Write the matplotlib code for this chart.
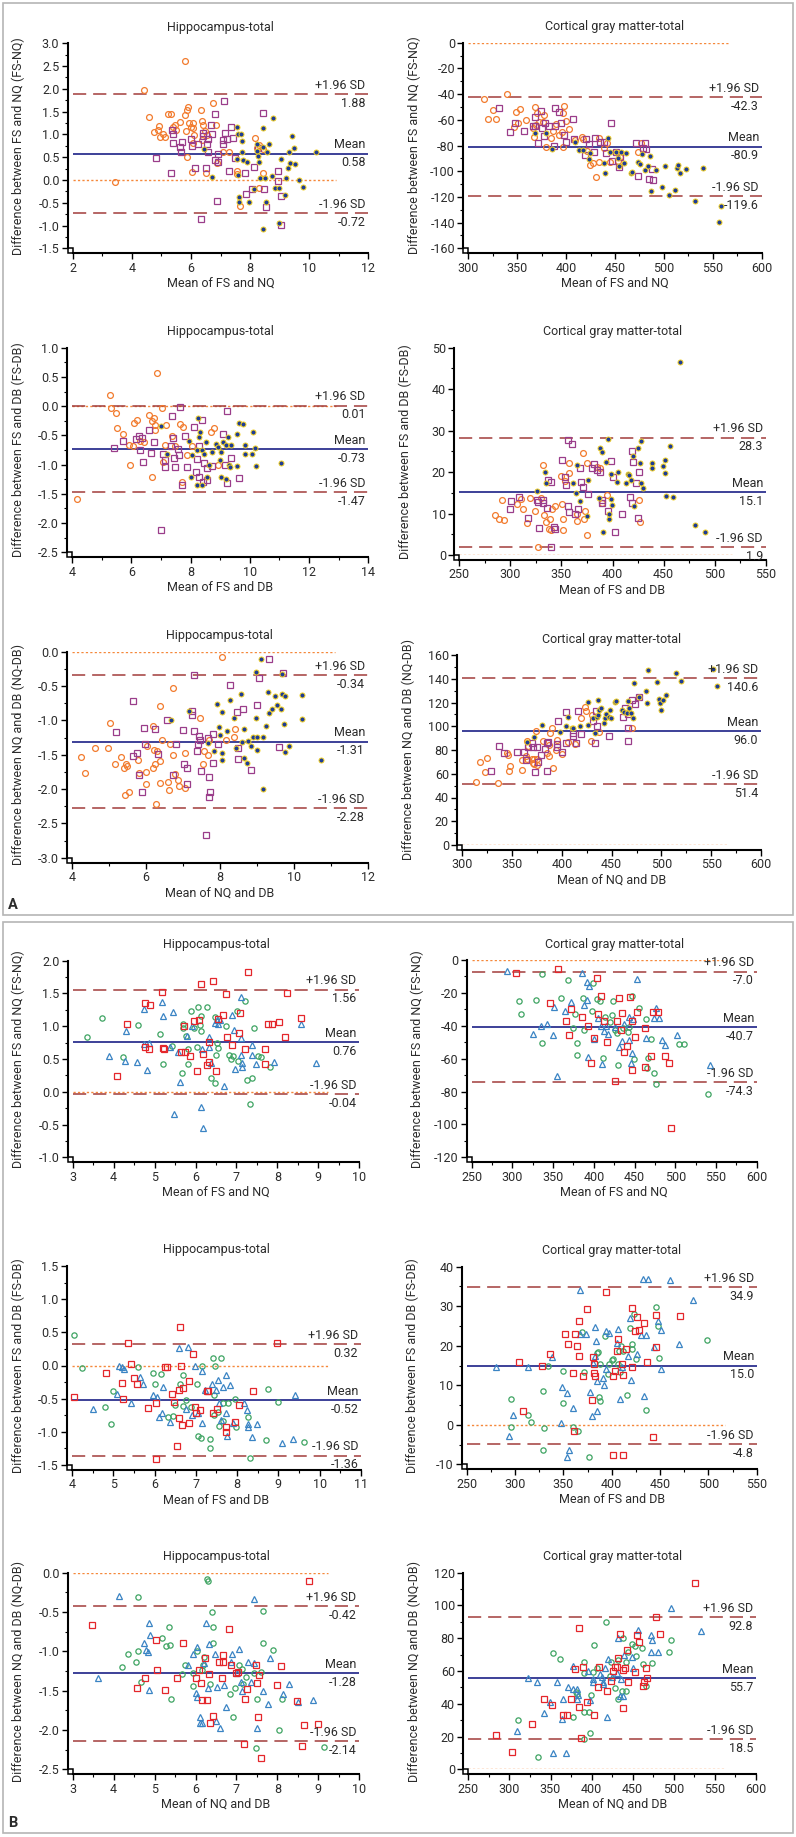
import numpy as np
import matplotlib
matplotlib.use('Agg')
import matplotlib.pyplot as plt
from matplotlib.patches import Rectangle
from matplotlib.transforms import blended_transform_factory
from matplotlib.ticker import MultipleLocator, FormatStrFormatter

plt.rcParams['font.family'] = ['Roboto', 'DejaVu Sans']
plt.rcParams['lines.scale_dashes'] = False

# ---------------- data (mean, difference) ----------------
# Panel A: orange circles, purple squares, navy dots
A1L_CIRC = [(3.43,-0.04),(4.41,1.98),(4.58,1.39),(4.75,1.05),(4.9,1.1),(4.92,1.18),(4.95,0.95),(5.07,1.0),(5.11,0.95),
            (5.21,1.44),(5.33,1.44),(5.4,1.17),(5.46,1.21),(5.51,1.1),(5.63,1.27),(5.8,2.62),(5.81,1.43),(5.86,1.54),
            (5.91,1.61),(5.83,1.08),(5.86,0.51),(5.93,1.26),(6.0,1.17),(6.06,1.26),(6.08,1.15),(6.02,0.17),(6.08,0.82),
            (6.11,0.99),(6.33,1.54),(6.38,1.3),(6.42,1.21),(6.38,0.88),(6.46,1.08),(6.51,0.15),(6.53,0.99),(6.73,1.7),
            (6.84,1.21),(6.89,0.37),(7.07,0.62),(7.29,0.61),(7.55,0.2),(7.57,0.13),(7.66,-0.58),(8.17,0.92),(8.22,0.7),
            (8.31,0.76),(8.31,-0.17),(8.45,0.16),(8.45,0.69)]
A1L_SQ = [(4.81,0.48),(5.34,0.15),(5.37,1.1),(5.38,1.0),(5.39,0.81),(5.63,0.72),(5.68,0.61),(5.7,0.84),(6.0,0.89),
          (6.05,0.75),(6.14,0.26),(6.23,0.8),(6.34,-0.86),(6.41,1.03),(6.42,0.97),(6.52,0.26),(6.55,0.79),(6.58,0.91),
          (6.59,0.61),(6.67,1.21),(6.71,1.0),(6.82,1.45),(6.82,0.44),(6.87,-0.46),(6.91,0.58),(6.93,0.4),(7.08,0.88),
          (7.1,0.78),(7.12,1.73),(7.14,1.03),(7.21,0.9),(7.28,0.2),(7.36,1.17),(7.43,0.92),(7.49,0.49),(7.82,0.15),
          (7.85,-0.31),(8.08,-0.19),(8.13,0.28),(8.28,0.71),(8.43,1.48),(8.48,-0.19),(8.54,-0.6),(8.93,0.2),
          (8.93,-0.02),(9.03,-0.35),(9.04,-0.99)]
A1L_DOT = [(6.45,0.67),(6.72,0.07),(7.57,1.16),(7.6,1.02),(7.57,0.47),(7.58,0.11),(7.64,-0.37),(7.64,-0.49),(7.71,1.0),
           (7.72,0.86),(7.73,0.62),(7.77,0.44),(7.9,0.4),(7.95,-0.48),(8.13,-0.2),(8.22,0.8),(8.25,0.64),(8.28,0.53),
           (8.31,0.39),(8.35,0.04),(8.43,1.13),(8.45,0.73),(8.51,0.05),(8.53,-0.48),(8.45,-1.08),(8.56,0.62),(8.65,0.78),
           (8.73,0.08),(8.78,1.37),(8.85,-0.18),(8.98,-0.18),(8.98,-0.94),(9.06,0.45),(9.17,-0.33),(9.21,0.04),
           (9.27,0.27),(9.32,0.62),(9.35,0.38),(9.42,0.97),(9.5,0.7),(9.51,0.35),(9.66,-0.01),(9.78,-0.15),(10.23,0.61)]

A1R_CIRC = [(316,-44),(320.5,-59.6),(325,-52.4),(328.6,-59.4),(339.5,-40.2),(347,-65.9),(349,-53.9),(351,-62.2),
            (353,-51.3),(359,-60.4),(366.5,-66),(368,-49.8),(367.5,-73.7),(369,-64),(370.6,-55),(372.6,-61.5),
            (376.7,-62),(377.7,-56.3),(379,-81),(384.6,-74.4),(387,-68.7),(389.7,-63.5),(392.7,-71.8),(396,-69.2),
            (397,-81),(397,-54.5),(398,-49.3),(399.5,-60.7),(403,-67.2),(409,-75.7),(416,-73.7),(417,-75.2),
            (421.7,-84.3),(424.4,-95.2),(427.8,-93.4),(430.6,-104.8),(433.6,-92.6),(434,-74.2),(439,-82),(441.5,-77.8),
            (445,-92.6),(453.4,-91.8),(455,-88.7),(473.9,-84.8),(476.3,-78.3)]
A1R_SQ = [(331.7,-51.1),(342.6,-69.8),(348,-62.8),(357,-68.5),(365.8,-64.8),(368,-64.8),(368.7,-58.1),(371,-78.3),
          (374.7,-53.2),(375.7,-66.6),(377.4,-72.6),(378.4,-62.8),(382.5,-64.6),(387.6,-80.1),(389,-51.1),(389,-64.8),
          (392.7,-53.7),(395,-62.8),(398,-71.6),(399.9,-77),(407,-59.6),(407.7,-75.2),(419,-87.4),(420.3,-75.2),
          (423.3,-79.1),(428.5,-85.3),(430,-74.2),(434.3,-77),(438.7,-77),(441,-86.1),(446.3,-62.8),(447.2,-92.1),
          (451.3,-85.3),(454,-96.5),(454.7,-88.7),(471.4,-77.8),(473.7,-103.5),(478.9,-82.2),(480.9,-77.8),
          (481.6,-83),(484.3,-105.7),(487.4,-98),(488.4,-107)]
A1R_DOT = [(368,-70.5),(379,-70.5),(385.2,-82.7),(409,-77),(413,-83.5),(417.6,-83.5),(423.4,-90.8),(424.4,-86.1),
           (438.7,-93.9),(439.8,-101.7),(442.8,-74.4),(444.5,-84.8),(450.6,-84.8),(453,-90),(454,-96),(456.4,-84.8),
           (458.8,-93.4),(461.5,-85.6),(466,-101.1),(467.7,-100.4),(473.5,-93.1),(475.2,-94.4),(477.6,-86.9),
           (481,-99.1),(484,-96),(485.7,-87.9),(486.8,-115.1),(492.2,-99.1),(498,-112),(501.4,-96),(504.8,-118.5),
           (511,-114.6),(513.4,-97.3),(514.4,-95.2),(516.8,-101.7),(522.6,-98.5),(532,-122.9),(539.7,-97.3),
           (556.7,-139.3),(558,-127.1)]

A2L_CIRC = [(4.18,-1.59),(5.28,0.19),(5.32,-0.04),(5.47,-0.12),(5.51,-0.38),(5.73,-0.47),(5.96,-1.01),(5.93,-0.66),
            (6.05,-0.69),(6.1,-0.28),(6.18,-0.23),(6.29,-0.59),(6.44,-0.61),(6.6,-0.15),(6.69,-0.25),(6.71,-1.21),
            (6.77,-0.2),(6.8,-0.32),(6.81,-0.41),(6.88,0.56),(7.05,-0.04),(7.06,-0.95),(7.16,-0.33),(7.15,-0.66),
            (7.36,-0.51),(7.48,-0.69),(7.65,-0.31),(7.7,-1.29),(7.76,-0.35),(7.87,-0.84),(8.06,-0.68),(8.68,-0.45),
            (8.79,-0.38),(8.94,-1.0)]
A2L_SQ = [(5.42,-0.71),(5.73,-0.59),(6.16,-0.56),(6.25,-0.51),(6.29,-0.75),(6.35,-0.55),(6.41,-0.96),(6.6,-0.4),
          (6.67,-0.8),(6.77,-0.62),(7.0,-2.12),(7.08,-0.81),(7.13,-0.92),(7.15,-1.04),(7.33,-0.69),(7.39,-0.17),
          (7.42,-0.55),(7.44,-0.88),(7.48,-1.04),(7.59,-0.74),(7.62,-0.84),(7.66,-0.01),(7.7,-1.35),(7.81,-0.51),
          (7.89,-1.04),(8.12,-0.35),(8.18,-1.12),(8.21,-0.9),(8.27,-0.68),(8.3,-1.22),(8.38,-0.23),(8.43,-1.29),
          (8.47,-0.98),(8.54,-1.06),(8.54,-1.26),(8.74,-1.02),(9.11,-0.48),(9.16,-1.01),(9.22,-0.09),(9.22,-1.31),
          (9.37,-0.88),(9.65,-1.23)]
A2L_DOT = [(7.0,-0.34),(7.19,-0.81),(7.96,-0.59),(8.04,-0.84),(8.0,-1.21),(8.21,-1.35),(8.23,-0.75),(8.24,-0.2),
           (8.29,-0.52),(8.32,-0.44),(8.38,-1.35),(8.38,-0.75),(8.46,-0.82),(8.52,-0.61),(8.54,-1.22),(8.63,-1.01),
           (8.74,-0.79),(8.86,-0.64),(8.94,-0.7),(8.99,-0.92),(9.02,-0.78),(9.03,-1.22),(9.11,-0.61),(9.19,-0.66),
           (9.2,-1.24),(9.28,-0.52),(9.3,-1.01),(9.33,-1.04),(9.36,-0.67),(9.56,-1.02),(9.56,-0.48),(9.65,-0.28),
           (9.78,-0.31),(9.84,-0.67),(9.84,-0.82),(10.06,-0.82),(10.12,-0.44),(10.18,-0.71),(10.2,-1.02),(11.05,-0.98)]

A2R_CIRC = [(284.9,9.6),(288.9,8.6),(292.1,13.3),(294.1,8.4),(306.2,12.3),(310.4,13.4),(312.7,11),(316,7.8),
            (319.2,13.7),(324.1,10.7),(327.4,2.0),(329.7,13.8),(331.6,21.7),(333,9.6),(334.6,7.9),(337.8,6.2),
            (338.8,8.6),(339.5,6),(341.1,11),(343.7,11.8),(349.2,19.1),(350.6,12.3),(351.2,8.7),(351.9,6),
            (353.5,17.8),(357.4,19.7),(357.7,22.1),(364.9,10.0),(365.5,8.3),(370.8,24.7),(372.1,8.8),(373.1,10.7),
            (374.7,4.8),(375.4,22.1),(385.2,21.3),(387.8,20.9),(389.7,12.5),(394.3,14.5),(426.3,13.3),(427,8.0)]
A2R_SQ = [(299.6,11),(300.3,13),(308.8,14.1),(317,9),(326.4,13.3),(327.4,12.7),(328.4,6.4),(331.6,13.3),(332.3,12.5),
          (335.5,11.3),(336.5,18.1),(339.5,17.7),(339.5,2.0),(343.0,6.7),(343.7,6.2),(350.9,22.9),(353.2,18.7),
          (354.5,16.9),(356.1,27.7),(356.8,11.9),(357.4,10.3),(360.0,26.8),(363.3,10.0),(366.6,11.0),(368.2,20.9),
          (368.8,17.5),(370.8,16.5),(376.3,14.6),(380.3,20.9),(381.9,21.9),(384.5,20.5),(387.8,20),(389.4,13.3),
          (390.0,12.5),(395.9,10.7),(398.5,22.7),(400.2,18.7),(402.8,5.5),(409,9.8),(417.2,14.1),(418.8,25.1),
          (419.4,12.5),(420.4,22.5),(423,17.3),(424.7,9.0),(426,20.1)]
A2R_DOT = [(325.7,15.5),(333.9,19.9),(334.9,17.4),(361.0,17.3),(363.9,14.9),(364.9,21.7),(368.2,13.1),(375.4,9.4),
           (376.3,18.1),(387.1,13.7),(387.8,25.9),(389.4,24.9),(391.0,5.5),(393.3,22.5),(395.9,27.9),(396.5,8.6),
           (396.9,9.8),(398.2,13.5),(398.8,19.5),(399.9,12.1),(404.7,17.5),(405.7,20.1),(413.2,17.3),(414.9,19.5),
           (416.5,19.3),(418.1,18.1),(419.8,23.9),(421.4,11.7),(424.7,25.9),(427,22.3),(427.6,27.6),(428,17.4),
           (430.2,16.1),(438.4,22.3),(439.0,21.1),(449.2,21.5),(451.4,22.8),(451.4,19.7),(452.1,14.2),(456.3,26.4),
           (459.6,14.1),(466.1,46.6),(481.1,7.2),(490.6,5.6)]

A3L_CIRC = [(4.23,-1.54),(4.35,-1.76),(4.62,-1.4),(4.98,-1.4),(5.04,-1.04),(5.16,-1.64),(5.33,-1.54),(5.41,-1.70),
            (5.46,-1.63),(5.48,-1.66),(5.43,-2.08),(5.55,-2.05),(5.78,-1.57),(5.8,-1.76),(6.0,-1.92),(5.99,-1.75),
            (6.02,-1.38),(6.2,-1.08),(6.2,-1.69),(6.22,-1.43),(6.25,-1.63),(6.26,-2.22),(6.31,-1.44),(6.37,-1.91),
            (6.39,-1.59),(6.39,-0.79),(6.44,-1.29),(6.59,-1.9),(6.63,-2.01),(6.65,-1.35),(6.72,-0.53),(6.72,-1.51),
            (6.79,-1.78),(6.88,-1.87),(6.9,-1.95),(7.06,-1.48),(7.07,-1.98),(7.47,-0.97),(7.55,-1.63),(7.57,-1.45),
            (7.67,-1.5),(7.71,-1.29),(8.05,-0.07),(8.16,-1.28),(8.38,-1.24),(8.41,-1.12)]
A3L_SQ = [(5.18,-1.17),(5.66,-0.72),(5.66,-1.52),(5.75,-1.47),(5.8,-1.8),(5.9,-2.05),(5.96,-1.11),(5.97,-1.34),
          (6.25,-1.13),(6.34,-1.49),(6.56,-1.0),(6.74,-1.8),(6.81,-1.35),(7.01,-1.14),(7.03,-1.63),(7.1,-1.69),
          (7.12,-1.93),(7.24,-0.86),(7.24,-0.92),(7.31,-0.34),(7.31,-1.16),(7.37,-1.45),(7.4,-1.34),(7.43,-1.23),
          (7.46,-1.29),(7.49,-1.74),(7.62,-2.67),(7.69,-1.25),(7.71,-1.83),(7.73,-2.05),(7.71,-2.12),(7.81,-1.62),
          (7.82,-1.2),(7.96,-1.35),(8.27,-0.48),(8.47,-0.88),(8.5,-1.4),(8.5,-1.56),(8.62,-0.84),(8.84,-1.72),
          (9.0,-0.77),(9.07,-0.38),(9.32,-0.11),(9.59,-1.39),(9.72,-0.31)]
A3L_DOT = [(6.67,-1.0),(7.16,-0.86),(7.69,-1.33),(7.85,-1.45),(7.91,-0.76),(7.98,-1.1),(8.0,-1.21),(8.05,-0.88),
           (8.05,-1.47),(8.05,-1.57),(8.18,-1.16),(8.27,-0.71),(8.39,-0.97),(8.45,-1.4),(8.56,-0.61),(8.61,-1.32),
           (8.65,-1.12),(8.65,-1.55),(8.73,-1.62),(8.77,-1.3),(8.83,-1.37),(8.89,-1.24),(8.97,-0.96),(8.98,-0.29),
           (9.0,-1.24),(9.0,-1.43),(9.11,-0.11),(9.16,-2.0),(9.18,-1.24),(9.25,-1.08),(9.29,-0.59),(9.33,-0.9),
           (9.4,-0.83),(9.49,-0.64),(9.54,-0.78),(9.65,-0.83),(9.67,-0.33),(9.69,-0.62),(9.73,-1.05),(9.76,-0.65),
           (9.76,-1.46),(9.86,-1.38),(10.21,-0.63),(10.21,-0.98),(10.74,-1.57)]

A3R_CIRC = [(313.7,53.3),(317.7,70.2),(322.8,61.2),(325.1,73),(336.2,51.9),(345.2,77.2),(345.5,75.8),(347.2,62.6),
            (348.2,66.5),(359.6,63.2),(360.3,71.6),(363.6,75),(364.6,87.9),(364.6,72.1),(365.6,83.6),(369.6,72.1),
            (371.3,68.8),(372,72.7),(372.3,67.9),(374,96.3),(374.7,72.1),(375.3,67.4),(380.7,87.9),(384.7,77.2),
            (387.4,75.2),(387.4,84.2),(388,94),(389.7,98.2),(391.4,64.6),(394.1,80),(394.8,88.4),(400.4,76.3),
            (406.5,86.5),(413.2,84.8),(418.9,106.7),(423.2,115.9),(423.9,112.8),(429.2,87.6),(429.9,109.5),
            (437.6,95.4),(470.7,98.8)]
A3R_SQ = [(328.8,62.6),(337.2,83.6),(342.2,77.8),(354.6,78.6),(362.3,78.6),(364,71.6),(365.6,82.2),(370.3,85.6),
          (371.3,82.2),(373,61.2),(375.3,82.8),(376.3,70.2),(379,75.8),(382.7,80.6),(384.7,86.2),(385,62.6),
          (386.4,87),(394.8,85),(395.5,82.2),(396.4,104.4),(399.8,78.1),(403.8,86.2),(404.1,112.3),(410.8,91.8),
          (411.5,94.6),(413.8,86.2),(416.5,113.1),(419.2,93.2),(430.9,104.4),(433.2,86.2),(433.9,113.1),
          (434.9,100.2),(447.6,91.8),(461.7,108.1),(463.3,115.1),(466,87.9),(466.6,98.2),(466.6,110.3),
          (470.7,122.1),(473.4,118.7),(477.4,124.4)]
A3R_DOT = [(364.6,86.5),(372.3,91.2),(380.3,101.1),(398.5,95.4),(404.6,100.2),(406.3,108.1),(409.7,98.2),
           (411.5,98.2),(418.2,100.5),(426.6,120.7),(426.6,101.1),(431.6,107.2),(433.6,94.6),(434.9,108.1),
           (436.3,109.5),(435.9,122.1),(437.6,113.7),(439.6,115.1),(441.9,103),(443.6,106.7),(444.6,110),
           (447,107.5),(448,113.7),(449.3,106.7),(453.7,120.7),(454.7,121.5),(460.4,113.7),(462.1,112.3),
           (465.5,111.4),(466.4,121.5),(467.1,115.1),(469.8,111.4),(471.4,106.7),(472.1,136.1),(477.1,124.9),
           (484.8,130),(485.5,119.3),(486.2,147.4),(495.6,137.5),(497.9,122.7),(498.9,119.3),(499.9,113.7),
           (501.6,122.1),(504.9,126.3),(514.3,145.1),(519.6,138.4),(552.1,147.9),(555.4,133.9)]

# Panel B: red squares, blue triangles, green circles
B1L_SQ = [(4.07,0.24),(4.33,1.04),(4.77,1.36),(4.77,0.69),(4.86,0.65),(4.88,1.32),(5.19,1.53),(5.21,0.67),(5.24,0.66),
          (5.64,0.6),(5.73,1.0),(5.74,0.6),(5.86,0.54),(5.97,1.08),(6.03,0.32),(6.08,1.10),(6.13,1.65),(6.19,0.58),
          (6.27,0.41),(6.34,0.46),(6.33,0.76),(6.42,1.69),(6.5,0.31),(6.55,1.11),(6.66,1.17),(6.74,1.49),(6.78,0.83),
          (6.89,0.72),(7.06,0.89),(7.08,1.2),(7.22,0.65),(7.29,1.83),(7.69,0.65),(7.69,0.42),(7.76,1.03),(7.86,1.03),
          (8.04,1.07),(8.19,0.83),(8.24,1.50),(8.57,1.12)]
B1L_TRI = [(3.89,0.55),(4.3,0.93),(4.27,0.47),(4.56,0.46),(4.74,1.27),(4.74,0.73),(4.81,0.33),(4.87,0.75),(5.19,1.37),
           (5.21,1.16),(5.38,0.69),(5.46,1.21),(5.47,-0.34),(5.58,0.6),(5.62,0.15),(5.78,0.85),(5.91,1.0),(6.13,-0.23),
           (6.16,0.66),(6.19,-0.56),(6.33,0.69),(6.34,0.83),(6.39,0.44),(6.47,1.05),(6.53,1.1),(6.55,1.04),(6.6,1.1),
           (6.7,0.09),(6.88,1.17),(6.95,0.95),(6.96,0.35),(7.1,1.44),(7.11,0.82),(7.12,0.56),(7.13,0.38),(7.14,0.44),
           (7.37,0.72),(7.37,0.56),(7.47,0.43),(7.91,0.46),(8.57,1.03),(8.94,0.44)]
B1L_CIRC = [(3.36,0.84),(3.71,1.12),(4.22,0.53),(4.6,1.02),(5.13,0.88),(5.2,0.42),(5.43,0.7),(5.66,0.28),(5.69,1.03),
            (5.7,0.98),(5.76,0.85),(5.82,0.43),(5.82,0.65),(5.89,1.24),(5.96,0.97),(6.03,0.68),(6.06,1.29),(6.11,1.02),
            (6.14,0.92),(6.14,1.15),(6.29,1.29),(6.39,0.21),(6.48,0.14),(6.47,1.14),(6.5,0.56),(6.53,0.75),(6.54,0.67),
            (6.74,1.0),(6.82,0.56),(6.86,0.5),(6.92,0.54),(7.02,1.24),(7.04,0.47),(7.21,1.39),(7.25,0.18),(7.33,-0.18),
            (7.37,0.21),(7.43,0.98),(7.53,0.55),(7.59,0.53),(7.82,0.38)]

B1R_SQ = [(304,-8.1),(355.6,-5.5),(346.4,-25.9),(365.4,-36.9),(370,-45.6),(372,-30),(385.1,-34.5),(393.3,-40.1),
          (396.1,-62.8),(400.2,-47.6),(404.3,-11.1),(405.5,-32.8),(408.4,-21.7),(412.9,-36.9),(415.8,-49.7),
          (426,-73.6),(428,-36.9),(431.3,-23.3),(433,-42.6),(434.2,-32.4),(437.1,-55.7),(441.2,-52.1),(444.4,-22.7),
          (446.5,-37.1),(446.5,-66.9),(450.6,-47),(452.6,-31.8),(462.8,-41.6),(462.8,-64.9),(469.8,-58.4),
          (473,-31.4),(479.2,-31.4),(487.4,-58.4),(492.7,-62.8),(494.4,-102)]
B1R_TRI = [(293,-6.7),(324.9,-45),(334.7,-39.9),(342.9,-38.9),(349.5,-45.6),(351.1,-28.8),(354.4,-70.5),(364.6,-31),
           (371.6,-25.5),(385.1,-8.1),(388,-27.4),(391.2,-13.6),(392,-24.3),(392.5,-58.8),(394.5,-15.6),(400.2,-48.2),
           (404.7,-35.5),(408.4,-40.1),(410.5,-63.2),(412.5,-43),(414.6,-40.1),(417.8,-45),(426,-40.9),(430.9,-52.7),
           (434.2,-49.1),(437.5,-38.9),(443.6,-34.5),(443.6,-48.7),(445.7,-62.8),(446.5,-56.4),(448.5,-36.1),
           (452.6,-11.8),(463.7,-47.6),(474,-35.1),(476.4,-29.4),(480.1,-35.5),(483.3,-48.7),(487.4,-51.7),
           (501.7,-45.6),(542.7,-63.9)]
B1R_CIRC = [(308.5,-24.7),(310.6,-32.8),(329,-24.3),(336,-8.5),(336,-50.3),(359.3,-23.3),(367.9,-12.2),(374.8,-41.6),
            (376.9,-32.8),(378.9,-50.7),(379.8,-57.8),(386.3,-23.3),(388.4,-42.6),(397.4,-30.8),(399.4,-14.2),
            (403.5,-23.7),(407.6,-24.7),(410.9,-59.8),(413.7,-34.9),(419.9,-37.5),(422.7,-33.4),(423.9,-24.7),
            (426,-42.6),(428.9,-44.2),(430.1,-63.9),(435.4,-41.6),(441.6,-44),(443.2,-40.9),(447.3,-21.9),
            (449.8,-60.4),(455.9,-29.4),(464.1,-35.9),(464.9,-65.9),(467,-59.8),(469.8,-48.2),(473.9,-68.5),
            (476,-75.4),(505,-51.1),(510.7,-51.1),(540.6,-81.5)]

B2L_SQ = [(4.05,-0.47),(4.82,-0.11),(5.21,-0.26),(5.23,-0.51),(5.36,0.34),(5.44,0.02),(5.51,-0.19),(5.57,-0.28),
          (5.85,-0.64),(6.03,-0.57),(6.03,-1.41),(6.25,-0.03),(6.31,-0.03),(6.43,-0.43),(6.47,-0.55),(6.54,-1.22),
          (6.6,-0.37),(6.6,-0.79),(6.61,0.58),(6.65,-0.01),(6.66,-0.9),(6.68,-0.34),(6.83,-0.23),(6.84,-0.87),
          (6.92,0.18),(6.99,-0.62),(7.0,-0.71),(7.1,-0.67),(7.26,-0.39),(7.3,-0.39),(7.42,-0.71),(7.51,-0.66),
          (7.72,-0.93),(7.74,-1.0),(7.95,-0.85),(8.05,-0.6),(8.39,-0.39),(8.97,0.34)]
B2L_TRI = [(4.52,-0.66),(5.1,-0.43),(5.14,-0.01),(5.2,-0.02),(5.26,-0.06),(5.42,-0.57),(5.65,-0.17),(5.71,-0.28),
           (5.97,-0.44),(6.07,-0.47),(6.11,-0.78),(6.17,-0.72),(6.2,-0.33),(6.37,-0.85),(6.59,0.26),(6.76,-0.65),
           (6.82,0.28),(6.91,-0.75),(6.97,-0.01),(7.04,-0.72),(7.15,-0.86),(7.16,-0.09),(7.22,-0.37),(7.39,-0.28),
           (7.48,-0.37),(7.54,-0.22),(7.55,-0.57),(7.62,-0.82),(7.66,-0.32),(7.73,-0.14),(7.74,-0.72),(7.76,-1.07),
           (7.83,-0.3),(7.91,-0.87),(8.16,-0.57),(8.24,-0.67),(8.26,-0.88),(8.27,-0.93),(8.37,-1.08),(8.47,-0.88),
           (9.08,-1.17),(9.36,-1.11),(9.4,-0.45)]
B2L_CIRC = [(4.05,0.46),(4.24,-0.04),(4.81,-0.62),(4.94,-0.88),(5.0,-0.39),(5.61,-0.03),(5.95,-0.12),(6.01,-0.28),
            (6.15,-0.13),(6.33,-0.78),(6.44,-0.76),(6.49,-0.6),(6.61,-0.28),(6.68,-0.61),(6.7,-0.15),(6.75,-0.52),
            (6.88,-0.62),(7.03,-0.28),(7.06,-1.07),(7.12,-1.1),(7.15,-0.01),(7.34,-1.11),(7.42,0.11),(7.44,-0.75),
            (7.45,-0.45),(7.47,0.0),(7.54,-0.7),(7.57,-0.91),(7.6,0.12),(7.66,-0.56),(7.66,-0.84),(7.79,-0.57),
            (7.95,-0.51),(7.97,-0.92),(8.27,-0.78),(8.31,-1.4),(8.69,-1.13),(8.75,-0.36),(8.99,-0.55),(9.62,-1.16),
            (7.34,-1.25)]

B2R_SQ = [(304.5,15.9),(308,3.6),(327.6,15.0),(336.2,17.9),(352.1,23.0),(354.8,20.4),(359.7,13.2),(361,-1.6),
          (361.7,23),(363.8,19.9),(366.2,26.3),(366.2,17.5),(370.7,12.3),(374.1,29.2),(379.7,6.3),(381,17.2),
          (381.7,15.4),(381.7,13.0),(382.4,12.3),(394.1,33.5),(401,12.3),(403.4,13.6),(405.2,18.7),(406.2,21.7),
          (401.7,-7.6),(410.3,15.4),(412.1,12.6),(412.1,-7.6),(414.8,19.2),(421,29.5),(421.4,14.7),(424.1,23.8),
          (426.6,27.2),(428,24),(433.8,25.8),(436.2,16),(443.1,-3.2),(445.9,19.8),(445.9,27.9),(470.7,27.6)]
B2R_TRI = [(280.3,14.5),(294.1,-2.8),(298.3,2.6),(313.4,14.5),(337.9,17.1),(347.6,0.5),(348.3,9.6),(353.4,8),
           (353.4,-8.2),(355.5,-6.4),(360.3,4.2),(367.2,22.9),(367.2,34.1),(373.1,23),(377.6,8.4),(379.3,2.1),
           (381,15.7),(382.4,17.4),(383.1,24.7),(383.8,21.3),(384.5,3.6),(385.2,11.1),(390.7,11.8),(392.4,10.1),
           (393.8,14.0),(393.8,23.8),(397.2,23.3),(405.2,20.6),(406.9,24.2),(408.6,6.5),(410.3,14.7),(417.2,17.4),
           (418.9,27),(419.7,11.3),(426.6,17.9),(430.3,22.7),(432.8,36.8),(433.8,7.4),(435.5,22.7),(437.9,36.9),
           (444.1,19.8),(448.3,26.3),(450.7,24),(451.4,14.1),(460.3,36.6),(469.3,20.4),(484.5,31.6)]
B2R_CIRC = [(295.9,6.4),(295.5,-0.6),(313.8,2.6),(316.6,0.8),(329.3,-6.4),(328.6,8.6),(330,-0.9),(334.5,15),
            (349.3,13.7),(349.3,5.4),(360.3,-0.6),(365.2,-1.5),(369.0,23.4),(371.4,13.4),(376.6,-8.2),(385.2,18.2),
            (386.2,18.5),(386.9,7.1),(387.9,6.1),(387.9,15.5),(393.1,22.5),(396.6,12.8),(397.2,15.3),(400,16.4),
            (401.7,16.6),(406.9,15.4),(407.9,18.7),(408.6,13.4),(410,19.9),(411.4,18.7),(415.5,7.5),(418.9,24.4),
            (420.7,20.4),(421.4,19.1),(423.4,28),(425.2,16.6),(435.5,3.7),(445.9,29.7),(447.6,25),(449.3,17),
            (499,21.5)]

B3L_SQ = [(3.48,-0.66),(4.56,-1.47),(4.77,-1.34),(5.03,-0.86),(5.07,-1.24),(5.25,-1.49),(5.54,-1.34),(5.7,-0.89),
          (6.01,-1.34),(6.08,-1.24),(6.13,-1.4),(6.16,-1.62),(6.24,-1.08),(6.27,-1.62),(6.33,-1.29),(6.35,-1.91),
          (6.43,-1.82),(6.57,-1.14),(6.64,-1.34),(6.66,-1.05),(6.67,-1.13),(6.81,-0.71),(6.87,-1.17),(6.98,-1.28),
          (7.04,-1.26),(7.18,-2.18),(7.21,-1.6),(7.25,-1.48),(7.48,-1.17),(7.49,-1.4),(7.53,-1.83),(7.55,-1.3),
          (7.59,-2.36),(7.98,-1.43),(8.09,-1.19),(8.47,-1.63),(8.59,-2.2),(8.65,-1.94),(8.78,-0.11),(8.99,-1.93)]
B3L_TRI = [(3.61,-1.34),(4.13,-0.3),(4.74,-0.89),(4.86,-0.64),(4.88,-0.79),(4.85,-1.01),(4.87,-1.49),(4.78,-0.98),
           (5.82,-1.18),(5.95,-1.03),(6.0,-1.53),(6.03,-0.95),(6.04,-1.58),(6.11,-1.91),(6.12,-1.83),(6.17,-1.91),
           (6.21,-1.15),(6.25,-0.64),(6.3,-1.46),(6.34,-0.91),(6.47,-1.03),(6.5,-1.88),(6.53,-1.45),(6.6,-1.98),
           (6.69,-1.43),(6.74,-1.71),(6.86,-1.13),(6.88,-1.03),(7.02,-1.28),(7.06,-0.97),(7.12,-1.39),(7.13,-1.5),
           (7.28,-1.13),(7.35,-1.39),(7.42,-1.15),(7.42,-0.33),(7.49,-1.97),(7.65,-1.51),(7.78,-1.67),(7.83,-1.09),
           (8.14,-1.54),(8.29,-1.42),(8.51,-1.64),(8.86,-1.62)]
B3L_CIRC = [(4.21,-1.2),(4.36,-1.04),(4.54,-1.14),(4.59,-0.31),(4.6,-1.0),(4.68,-1.39),(5.19,-0.83),(5.34,-0.69),
            (5.29,-0.93),(5.38,-0.92),(5.39,-1.61),(5.68,-1.29),(5.74,-1.18),(5.93,-1.27),(5.93,-1.44),(6.03,-0.99),
            (6.15,-1.24),(6.19,-1.17),(6.21,-1.07),(6.29,-0.08),(6.31,-0.11),(6.35,-1.41),(6.41,-0.5),(6.42,-0.69),
            (6.43,-0.9),(6.84,-1.54),(6.91,-1.84),(6.96,-1.46),(7.07,-1.17),(7.13,-1.23),(7.23,-1.32),(7.17,-1.41),
            (7.43,-1.28),(7.48,-2.23),(7.49,-1.61),(7.61,-1.26),(7.65,-0.89),(7.65,-0.49),(7.9,-0.98),(8.04,-2.0),
            (8.1,-1.61),(9.14,-2.22)]

B3R_SQ = [(283.3,21),(302.7,10.8),(327,27.5),(342.5,42.9),(351.4,39.3),(365.6,33.2),(370.4,33.2),(374.9,42.9),
          (379.4,61.2),(385,38.2),(385,86.4),(387.1,19.3),(389.1,62.2),(394,41.3),(402.9,33.2),(408.2,50.4),(409,62.2),
          (419.1,47.7),(423.6,53.9),(426.4,60.2),(428.4,62.6),(430.5,62.6),(432.5,67.7),(434.5,82.6),(438.6,60.6),
          (438.6,37.2),(440.6,61.6),(443.4,72.8),(443.8,53.5),(452.8,59.2),(454.8,82),(458.1,77.9),(462.9,51.1),
          (464.1,53.5),(466.1,62),(467.8,55.5),(478.3,92.7),(483.2,82.4),(525.7,113.9)]
B3R_TRI = [(308.8,23.4),(323,55.5),(334,53.1),(342.5,34.2),(349.4,41.3),(353.4,9.8),(357.5,53.5),(365.6,42.7),
           (363.5,30.7),(368.4,9.8),(370.8,50.4),(376.9,48.8),(377.7,63.3),(381.8,42.7),(382.6,48.8),(383,45.4),
           (396,60.2),(398,42.3),(401.3,53.5),(402.1,55.1),(410.2,58.2),(412.2,56.5),(413.4,52.1),(414.2,53.5),
           (416.2,62),(418.3,32.1),(420.3,67.1),(425.2,56.5),(431.3,58.6),(432.5,79.9),(434.5,45),(435.8,55.1),
           (437.8,44.8),(439.4,69.8),(449.5,68.3),(450.8,61.6),(456,85),(471.8,82),(473,78.9),(471.8,71.8),
           (481.1,71.8),(496.1,98.2),(532.6,84.6)]
B3R_CIRC = [(310.8,30.1),(335.2,7.7),(352.6,70.8),(361.5,67.1),(376.9,31.7),(380.6,47.4),(381.8,45.8),(390.7,65.7),
            (391.1,58.6),(390.7,35.2),(391.1,18.3),(398,22),(397.2,34.8),(398.8,45.4),(401.3,59.2),(402.9,75.9),
            (406.1,61.6),(417.5,89.7),(422.3,57.2),(423.1,65.3),(428.4,49.4),(431.6,66.7),(432.5,42.9),(436.5,48),
            (438.6,80.3),(441.4,65.3),(441.8,47.8),(444.6,71.8),(448.7,76.3),(452.8,75.5),(454,69.2),(461.7,74.3),
            (462.1,64.3),(465.7,51.1),(473,65.1),(494.5,71.8),(496.1,78.9)]

# limits of agreement: (+1.96 SD, mean, -1.96 SD) and their printed labels
LIMITS = {
    'A1L': ((1.88, 0.58, -0.72), ('1.88', '0.58', '-0.72')),
    'A1R': ((-42.3, -80.9, -119.6), ('-42.3', '-80.9', '-119.6')),
    'A2L': ((0.01, -0.73, -1.47), ('0.01', '-0.73', '-1.47')),
    'A2R': ((28.3, 15.1, 1.9), ('28.3', '15.1', '1.9')),
    'A3L': ((-0.34, -1.31, -2.28), ('-0.34', '-1.31', '-2.28')),
    'A3R': ((140.6, 96.0, 51.4), ('140.6', '96.0', '51.4')),
    'B1L': ((1.56, 0.76, -0.04), ('1.56', '0.76', '-0.04')),
    'B1R': ((-7.0, -40.7, -74.3), ('-7.0', '-40.7', '-74.3')),
    'B2L': ((0.32, -0.52, -1.36), ('0.32', '-0.52', '-1.36')),
    'B2R': ((34.9, 15.0, -4.8), ('34.9', '15.0', '-4.8')),
    'B3L': ((-0.42, -1.28, -2.14), ('-0.42', '-1.28', '-2.14')),
    'B3R': ((92.8, 55.7, 18.5), ('92.8', '55.7', '18.5')),
}

# ---------------- styles ----------------
FS = 9
TXT = '#2b2b2b'
LIM_C = '#a23c3a'
MEAN_C = '#2d3190'
ZERO_C = '#f5883a'
ST_ORANGE = dict(marker='o', mfc='none', mec='#f27b2e', ms=4.2, mew=0.9)
ST_PURPLE = dict(marker='s', mfc='none', mec='#9a3d8a', ms=4.5, mew=0.9)
ST_NAVY = dict(marker='o', mfc='#1e3c96', mec='#f2d021', ms=3.6, mew=0.7)
ST_RED = dict(marker='s', mfc='none', mec='#e4262b', ms=4.5, mew=0.9)
ST_BLUE = dict(marker='^', mfc='none', mec='#3a84c4', ms=5.0, mew=0.9)
ST_GREEN = dict(marker='o', mfc='none', mec='#3ea462', ms=3.8, mew=0.9)

W, H = 796, 1837
fig = plt.figure(figsize=(W / 100, H / 100), dpi=100)
fig.patch.set_facecolor('white')


def fx(px):
    return px / W


def fy(py):
    return 1 - py / H


def bland(key, box, xlim, xstep, ylim, ystep, yfmt, title, xlab, ylab, groups):
    x0, x1, yt, yb = box
    ax = fig.add_axes([fx(x0), fy(yb), (x1 - x0) / W, (yb - yt) / H])
    ax.set_xlim(xlim)
    ax.set_ylim(ylim)
    ax.patch.set_visible(False)
    for s in ['top', 'right']:
        ax.spines[s].set_visible(False)
    for s in ['left', 'bottom']:
        ax.spines[s].set_position(('outward', 3.6))
        ax.spines[s].set_linewidth(1.5)
    ax.xaxis.set_major_locator(MultipleLocator(xstep))
    ax.xaxis.set_minor_locator(MultipleLocator(xstep / 2))
    ax.yaxis.set_major_locator(MultipleLocator(ystep))
    ax.yaxis.set_minor_locator(MultipleLocator(ystep / 2))
    ax.yaxis.set_major_formatter(FormatStrFormatter(yfmt))
    ax.tick_params(which='major', length=4, width=1, labelsize=FS, labelcolor=TXT, pad=2)
    ax.tick_params(which='minor', length=2.2, width=0.8)
    ax.set_title(title, fontsize=FS, color=TXT, pad=9)

    (up, mean, lo), labs = LIMITS[key]
    ax.plot([xlim[0], xlim[0] + 0.89 * (xlim[1] - xlim[0])], [0, 0], color=ZERO_C,
            lw=1.0, ls=(0, (1.6, 1.6)), zorder=1)
    ax.axhline(up, color=LIM_C, lw=1.1, ls=(0, (9.5, 5)), zorder=1)
    ax.axhline(lo, color=LIM_C, lw=1.1, ls=(0, (9.5, 5)), zorder=1)
    ax.axhline(mean, color=MEAN_C, lw=1.3, zorder=1)

    for pts, st in groups:
        arr = np.array(pts)
        ax.plot(arr[:, 0], arr[:, 1], ls='none', clip_on=False, zorder=3, **st)

    tr = blended_transform_factory(ax.transAxes, ax.transData)
    for val, top, bot in [(up, '+1.96 SD', labs[0]), (mean, 'Mean', labs[1]), (lo, '-1.96 SD', labs[2])]:
        ax.annotate(top, xy=(1, val), xycoords=tr, xytext=(-2, 1.6), textcoords='offset points',
                    ha='right', va='bottom', fontsize=FS, color=TXT, zorder=4)
        ax.annotate(bot, xy=(1, val), xycoords=tr, xytext=(-2, -2.0), textcoords='offset points',
                    ha='right', va='top', fontsize=FS, color=TXT, zorder=4)

    off = 5
    fig.add_artist(Rectangle((fx(x0 - off), fy(yb + off)), off / W, off / H, transform=fig.transFigure,
                             fill=False, ec='black', lw=1.1))
    fig.text(fx((x0 + x1) / 2), fy(yb + 35), xlab, ha='center', va='center', fontsize=FS, color=TXT)
    fig.text(fx(x0 - 54), fy((yt + yb) / 2), ylab, ha='center', va='center', rotation=90,
             fontsize=FS, color=TXT)
    return ax


HIPP = 'Hippocampus-total'
CGM = 'Cortical gray matter-total'
X_FN, Y_FN = 'Mean of FS and NQ', 'Difference between FS and NQ (FS-NQ)'
X_FD, Y_FD = 'Mean of FS and DB', 'Difference between FS and DB (FS-DB)'
X_ND, Y_ND = 'Mean of NQ and DB', 'Difference between NQ and DB (NQ-DB)'

GA = lambda c, s, d: [(c, ST_ORANGE), (s, ST_PURPLE), (d, ST_NAVY)]
GB = lambda s, t, c: [(c, ST_GREEN), (t, ST_BLUE), (s, ST_RED)]

bland('A1L', (72.7, 368.3, 43.3, 248.3), (2, 12), 2, (-1.5, 3.0), 0.5, '%.1f', HIPP, X_FN, Y_FN,
      GA(A1L_CIRC, A1L_SQ, A1L_DOT))
bland('A1R', (468.3, 761.7, 42.7, 248.3), (300, 600), 50, (-160, 0), 20, '%d', CGM, X_FN, Y_FN,
      GA(A1R_CIRC, A1R_SQ, A1R_DOT))
bland('A2L', (72, 368.3, 347.7, 552.3), (4, 14), 2, (-2.5, 1.0), 0.5, '%.1f', HIPP, X_FD, Y_FD,
      GA(A2L_CIRC, A2L_SQ, A2L_DOT))
bland('A2R', (459.3, 765.7, 347.7, 555), (250, 550), 50, (0, 50), 10, '%d', CGM, X_FD, Y_FD,
      GA(A2R_CIRC, A2R_SQ, A2R_DOT))
bland('A3L', (72, 367.7, 651.7, 857.7), (4, 12), 2, (-3.0, 0.0), 0.5, '%.1f', HIPP, X_ND, Y_ND,
      GA(A3L_CIRC, A3L_SQ, A3L_DOT))
bland('A3R', (462.3, 761, 655, 845), (300, 600), 50, (0, 160), 20, '%d', CGM, X_ND, Y_ND,
      GA(A3R_CIRC, A3R_SQ, A3R_DOT))

bland('B1L', (72.7, 359.3, 960.7, 1157.3), (3, 10), 1, (-1.0, 2.0), 0.5, '%.1f', HIPP, X_FN, Y_FN,
      GB(B1L_SQ, B1L_TRI, B1L_CIRC))
bland('B1R', (471.7, 756.7, 960, 1157.3), (250, 600), 50, (-120, 0), 20, '%d', CGM, X_FN, Y_FN,
      GB(B1R_SQ, B1R_TRI, B1R_CIRC))
bland('B2L', (72, 361, 1266, 1465), (4, 11), 1, (-1.5, 1.5), 0.5, '%.1f', HIPP, X_FD, Y_FD,
      GB(B2L_SQ, B2L_TRI, B2L_CIRC))
bland('B2R', (466.7, 756.7, 1266.7, 1464.3), (250, 550), 50, (-10, 40), 10, '%d', CGM, X_FD, Y_FD,
      GB(B2R_SQ, B2R_TRI, B2R_CIRC))
bland('B3L', (72.7, 359.3, 1572.7, 1769.3), (3, 10), 1, (-2.5, 0.0), 0.5, '%.1f', HIPP, X_ND, Y_ND,
      GB(B3L_SQ, B3L_TRI, B3L_CIRC))
bland('B3R', (468.3, 756, 1572.7, 1769.3), (250, 600), 50, (0, 120), 20, '%d', CGM, X_ND, Y_ND,
      GB(B3R_SQ, B3R_TRI, B3R_CIRC))

# panel frames and letters
fig.add_artist(Rectangle((fx(3), fy(915)), 790 / W, 912 / H, transform=fig.transFigure,
                         fill=False, ec='#b5b5b5', lw=1.2))
fig.add_artist(Rectangle((fx(3), fy(1833)), 790 / W, (1833 - 922) / H, transform=fig.transFigure,
                         fill=False, ec='#b5b5b5', lw=1.2))
fig.text(fx(13), fy(905), 'A', ha='center', va='center', fontsize=10.5, fontweight='bold', color=TXT)
fig.text(fx(13), fy(1823), 'B', ha='center', va='center', fontsize=10.5, fontweight='bold', color=TXT)

fig.savefig('out.png', dpi=100, facecolor='white')
